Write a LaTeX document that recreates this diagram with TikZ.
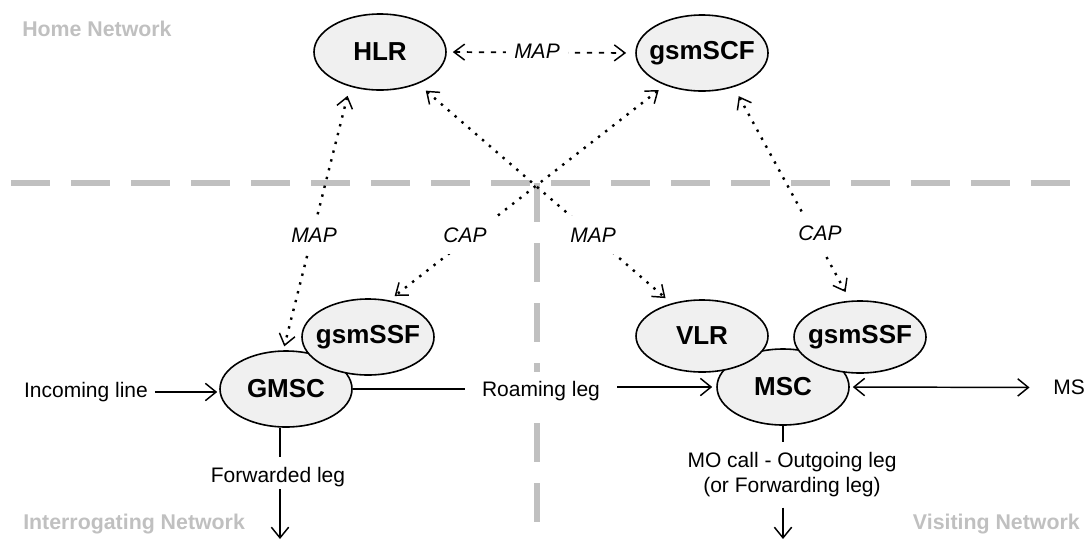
\documentclass[tikz,border=0pt]{standalone}
\usepackage{fontspec}
\setmainfont{Liberation Sans}
\usetikzlibrary{shapes.geometric,arrows.meta}
\definecolor{netgray}{HTML}{C0C0C0}
\definecolor{unitfill}{HTML}{F0F0F0}
\tikzset{
  unit/.style={ellipse, draw, fill=unitfill, line width=1.2pt, minimum width=99pt, minimum height=57pt,
    inner xsep=-12pt, inner ysep=0pt, font=\bfseries\fontsize{19.5}{23}\selectfont},
  netline/.style={netgray, line width=4.5pt, dash pattern=on 29.25pt off 15.75pt},
  netlabel/.style={netgray, font=\bfseries\fontsize{16}{19}\selectfont, inner sep=0pt},
  txt/.style={font=\fontsize{15.75}{18.75}\selectfont, inner sep=5pt},
  proto/.style={font=\itshape\fontsize{15.75}{18.75}\selectfont, fill=white, inner xsep=6pt, inner ysep=9pt},
  sig/.style={line width=1.8pt, dash pattern=on 1.8pt off 5pt,
    {Straight Barb[length=8pt,width=12pt,line width=1.1pt]}-{Straight Barb[length=8pt,width=12pt,line width=1.1pt]}},
  sigh/.style={sig, line width=1.3pt, dash pattern=on 4pt off 5pt},
  leg/.style={line width=1.1pt},
}
\begin{document}
\begin{tikzpicture}[x=0.75pt,y=0.75pt,yscale=-1,xscale=1,>={Straight Barb[length=8pt,width=13pt]}]
\useasboundingbox (0,0) rectangle (1087,540);

%Shape: network borders
\draw [netline] (11,183) -- (1087,183);
\draw [netline] (537,183) -- (537,522);

% Text Node
\node [netlabel, anchor=base west] (home) at (22,36) {Home Network};
% Text Node
\node [netlabel, anchor=base west] (inter) at (23,529) {Interrogating Network};
% Text Node
\node [netlabel, anchor=base east] (visit) at (1080,529) {Visiting Network};

%Shape: Ellipse
\node [unit] (hlr) at (380,52) {HLR};
\node [unit] (scf) at (702,53) {gsmSCF};
\node [unit] (gmsc) at (286,389) {GMSC};
\node [unit] (ssfI) at (368,337) {gsmSSF};
\node [unit] (msc) at (783,387) {MSC};
\node [unit, minimum height=54pt] (vlr) at (702,336) {VLR};
\node [unit, minimum height=54pt] (ssfV) at (860,337) {gsmSSF};

%Straight Lines: MAP / CAP
\draw [sigh, shorten <=4.5pt, shorten >=6.8pt] (hlr.east) -- (scf.west);
\draw [sig, shorten <=7.1pt, shorten >=3pt] (hlr.229) -- (gmsc.94);
\draw [sig, shorten <=7.7pt, shorten >=5.9pt] (hlr.320) -- (vlr.133);
\draw [sig, shorten <=5.9pt, shorten >=5.1pt] (scf.221) -- (ssfI.60);
\draw [sig, shorten <=7.7pt, shorten >=7.3pt] (scf.313) -- (ssfV.105);

% Text Node
\node [proto] (map0) at (537,51) {MAP};
\node [proto] (map1) at (314,235) {MAP};
\node [proto] (cap1) at (465,235) {CAP};
\node [proto] (map2) at (593,235) {MAP};
\node [proto] (cap2) at (820,233) {CAP};

% Text Node
\node [txt] (inc) at (86,392) {Incoming line};
\node [txt, fill=white, inner xsep=12.75pt, inner ysep=7pt] (roam) at (541,391) {Roaming leg};
\node [txt] (ms) at (1069,387.5) {MS};
\node [txt, inner ysep=2pt, anchor=base] (fwd) at (278,482) {Forwarded leg};
\node [txt, align=center, inner ysep=7.5pt] (mo) at (792,475) {MO call - Outgoing leg\\(or Forwarding leg)};
\coordinate (fwdEnd) at (280,539);
\coordinate (moEnd) at (783,539);

%Straight Lines: legs
\draw [leg, ->, shorten >=1.5pt] (inc.east) -- (inc.east -| gmsc.west);
\draw [leg] (gmsc.east) -- (gmsc.east -| roam.west);
\draw [leg, ->, shorten >=3pt] (roam.east |- msc.west) -- (msc.west);
\draw [leg, <->, shorten <=2.25pt, shorten >=12.6pt] (msc.east) -- (ms.west);
\draw [leg, shorten >=5.25pt] (gmsc.south -| fwdEnd) -- (fwd.north -| fwdEnd);
\draw [leg, ->] (fwd.south -| fwdEnd) -- (fwdEnd);
\draw [leg] (msc.south) -- (msc.south |- mo.north);
\draw [leg, ->] (mo.south -| moEnd) -- (moEnd);

\end{tikzpicture}
\end{document}
